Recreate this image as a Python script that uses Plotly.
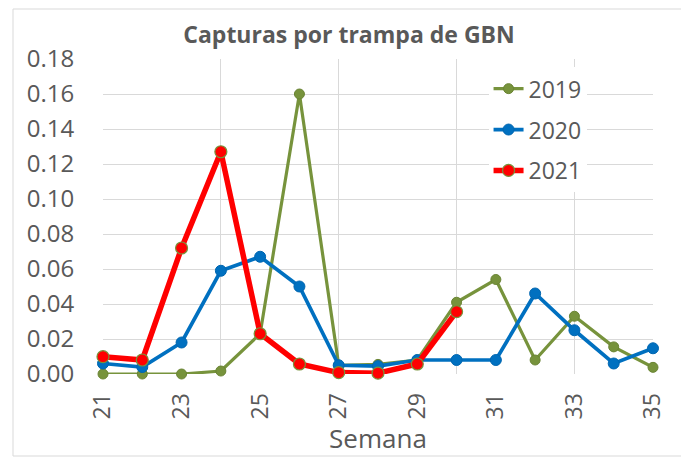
import plotly.graph_objects as go

weeks = list(range(21, 36))
y2019 = [0.000, 0.000, 0.000, 0.0017, 0.023, 0.160, 0.005, 0.0055, 0.008, 0.041, 0.054, 0.008, 0.033, 0.0155, 0.0038]
y2020 = [0.006, 0.004, 0.018, 0.059, 0.067, 0.050, 0.005, 0.0045, 0.008, 0.008, 0.008, 0.046, 0.025, 0.006, 0.0147]
weeks2021 = list(range(21, 31))
y2021 = [0.0099, 0.008, 0.072, 0.127, 0.023, 0.0057, 0.0008, 0.0005, 0.0057, 0.0356]

x_ticks = [21, 23, 25, 27, 29, 31, 33, 35]
y_ticks = [0.00, 0.02, 0.04, 0.06, 0.08, 0.10, 0.12, 0.14, 0.16, 0.18]

GREEN = "#77933C"
BLUE = "#0070C0"
RED = "#FF0000"
GRID = "#D9D9D9"
TXT = "#595959"
FONT = "Open Sans"

# page body has an 8px margin, so the figure is 8px smaller and shifted
W, H = 681, 449
L, T, R, B = 95, 51, 36, 83
PW, PH = W - L - R, H - T - B

fig = go.Figure()
fig.add_trace(go.Scatter(
    x=weeks, y=y2019, name="2019", mode="lines+markers", legendgroup="a",
    line=dict(color=GREEN, width=3.2),
    marker=dict(color=GREEN, size=10, line=dict(color="#6A8434", width=1)),
    cliponaxis=False))
fig.add_trace(go.Scatter(
    x=weeks, y=y2020, name="2020", mode="lines+markers", legendgroup="b",
    line=dict(color=BLUE, width=3.7),
    marker=dict(color=BLUE, size=11, line=dict(color="#0066B0", width=1)),
    cliponaxis=False))
fig.add_trace(go.Scatter(
    x=weeks2021, y=y2021, name="2021", mode="lines+markers", legendgroup="c",
    line=dict(color=RED, width=5.5),
    marker=dict(color=RED, size=12, line=dict(color=GREEN, width=1.2)),
    cliponaxis=False))

fig.update_layout(
    width=W, height=H,
    margin=dict(l=L, r=R, t=T, b=B, autoexpand=False),
    paper_bgcolor="white", plot_bgcolor="white",
    font=dict(family=FONT, color=TXT),
    title=dict(text="<b>Capturas por trampa de GBN</b>", x=341 / W, xref="container",
               y=1 - 27 / H, yref="container", xanchor="center", yanchor="middle",
               font=dict(family=FONT, size=23, color=TXT)),
    legend=dict(x=0.701, y=0.974, xanchor="left", yanchor="top", bgcolor="white",
                font=dict(family=FONT, size=23, color=TXT), tracegroupgap=8,
                itemwidth=30),
    showlegend=True,
    shapes=[dict(type="rect", xref="paper", yref="paper",
                 x0=(5 - L) / PW, x1=(675 - L) / PW,
                 y0=(T + PH - 448) / PH, y1=(T + PH - 1) / PH,
                 line=dict(color=GRID, width=1), fillcolor="rgba(0,0,0,0)", layer="below")],
)

fig.update_xaxes(
    automargin=False,
    range=[21, 35], tickvals=x_ticks, ticktext=[str(v) for v in x_ticks],
    tickangle=-90, showgrid=False, zeroline=False, showline=False,
    tickfont=dict(family=FONT, size=23, color=TXT),
    ticks="outside", ticklen=9, tickcolor="rgba(0,0,0,0)",
    minor=dict(tick0=21, dtick=3, showgrid=True, gridcolor=GRID, gridwidth=1, ticks=""),
    title=dict(text="Semana", font=dict(family=FONT, size=26, color=TXT), standoff=9),
)
fig.update_yaxes(
    automargin=False,
    range=[0, 0.18], tickvals=y_ticks, ticktext=[f"{v:.2f}" for v in y_ticks],
    showgrid=True, gridcolor=GRID, gridwidth=1, zeroline=False, showline=False,
    tickfont=dict(family=FONT, size=24, color=TXT),
    ticks="outside", ticklen=23, tickcolor="rgba(0,0,0,0)",
)

fig.write_html("out.html")
